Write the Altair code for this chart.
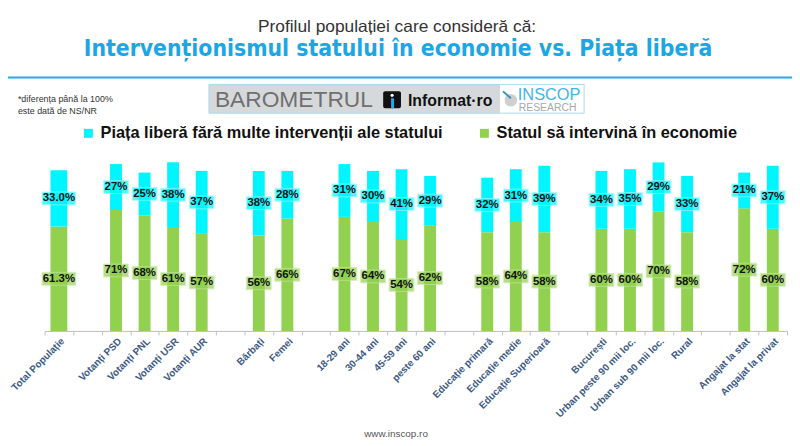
import altair as alt
import pandas as pd

# ---------------- data ----------------
groups = [
    ["Total Populație"],
    ["Votanți PSD", "Votanți PNL", "Votanți USR", "Votanți AUR"],
    ["Bărbați", "Femei"],
    ["18-29 ani", "30-44 ani", "45-59 ani", "peste 60 ani"],
    ["Educație primară", "Educație medie", "Educație Superioară"],
    ["București", "Urban peste 90 mii loc.", "Urban sub 90 mii loc.", "Rural"],
    ["Angajat la stat", "Angajat la privat"],
]
stat_vals = [61.3, 71, 68, 61, 57, 56, 66, 67, 64, 54, 62, 58, 64, 58, 60, 60, 70, 58, 72, 60]
piata_vals = [33.0, 27, 25, 38, 37, 38, 28, 31, 30, 41, 29, 32, 31, 39, 34, 35, 29, 33, 21, 37]
series_names = ["Piața liberă fără multe intervenții ale statului", "Statul să intervină în economie"]
series_colors = ["#00F5FF", "#92D050"]
box_strokes = ["#8FFBFF", "#C4E6A0"]

categories = [c for g in groups for c in g]
domain = []
for i, g in enumerate(groups):
    if i > 0:
        domain.append(" " * i)
    domain.extend(g)
total_cat = categories[0]

rows = []
for c, s, p in zip(categories, stat_vals, piata_vals):
    rows.append({"cat": c, "series": series_names[1], "k": 0, "v": s})
    rows.append({"cat": c, "series": series_names[0], "k": 1, "v": p})
df = pd.DataFrame(rows)

# ---------------- chart ----------------
W, H = 750, 172
is_total = alt.datum.cat == total_cat

x_enc = alt.X(
    "cat:N",
    sort=domain,
    scale=alt.Scale(domain=domain, paddingInner=0, paddingOuter=0),
    axis=alt.Axis(
        title=None, labelAngle=-45, tickBand="extent", tickSize=4,
        tickColor="#BFBFBF", domainColor="#BFBFBF", labelFont="Liberation Sans",
        labelFontWeight="bold", labelFontSize=10, labelColor="#3C5A84",
        labelPadding=1, labelLimit=200, labelOverlap=False,
    ),
)
y_scale = alt.Scale(domain=[0, 100])
color_scale = alt.Scale(domain=series_names, range=series_colors)

base = alt.Chart(df).transform_stack(
    stack="v", groupby=["cat"], as_=["v0", "v1"], sort=[alt.SortField("k", order="ascending")]
).transform_calculate(
    mid="(datum.v0 + datum.v1) / 2",
    lbl=f"datum.cat == '{total_cat}' ? format(datum.v, '.1f') + '%' : format(datum.v, '.0f') + '%'",
)

bars = base.mark_bar().encode(
    x=x_enc,
    y=alt.Y("v0:Q", scale=y_scale, axis=None),
    y2="v1:Q",
    color=alt.Color(
        "series:N", scale=color_scale,
        legend=alt.Legend(
            orient="none", legendX=36, legendY=-36, direction="horizontal", columns=2,
            title=None, symbolType="square", symbolSize=81, symbolStrokeWidth=0,
            labelFont="Liberation Sans", labelFontWeight="bold", labelFontSize=16.5,
            labelColor="#111111", columnPadding=33, labelLimit=600, padding=0,
            labelOffset=4,
        ),
    ),
    size=alt.condition(is_total, alt.value(17), alt.value(12)),
)

boxes = base.mark_tick(thickness=13, filled=True, strokeWidth=1).encode(
    x=x_enc,
    y=alt.Y("mid:Q", scale=y_scale, axis=None),
    color=alt.Color("series:N", scale=color_scale, legend=None),
    stroke=alt.Stroke("series:N", scale=alt.Scale(domain=series_names, range=box_strokes), legend=None),
    size=alt.condition(is_total, alt.value(34), alt.value(25)),
)

labels = base.mark_text(
    font="Liberation Sans", fontWeight="bold", fontSize=11.5, color="#111111", baseline="middle"
).encode(
    x=x_enc,
    y=alt.Y("mid:Q", scale=y_scale, axis=None),
    text="lbl:N",
)

# ---------------- decorations (header, logo, footer) ----------------
one = alt.Chart(pd.DataFrame({"a": [0]}))

title1 = one.mark_text(
    text="Profilul populației care consideră că:", font="Liberation Sans", fontSize=17.5,
    color="#333333", align="center", baseline="alphabetic",
).encode(x=alt.value(356), y=alt.value(-130))

title2 = one.mark_text(
    text="Intervenționismul statului în economie vs. Piața liberă", font="DejaVu Sans Condensed",
    fontWeight="bold", fontSize=23, color="#1BA6E6", align="center", baseline="alphabetic",
).encode(x=alt.value(357), y=alt.value(-106))

hline = one.mark_rule(color="#29ABE2", strokeWidth=2).encode(
    x=alt.value(-37), x2=alt.value(755), y=alt.value(-84)
)

note1 = one.mark_text(
    text="*diferența până la 100%", font="Liberation Sans", fontSize=9, color="#333333",
    align="left", baseline="middle",
).encode(x=alt.value(-27), y=alt.value(-62))
note2 = one.mark_text(
    text="este dată de NS/NR", font="Liberation Sans", fontSize=9, color="#333333",
    align="left", baseline="middle",
).encode(x=alt.value(-27), y=alt.value(-50))

logo_bg = one.mark_rect(fill="#D6D9DB").encode(
    x=alt.value(166), x2=alt.value(460), y=alt.value(-77), y2=alt.value(-48)
)
logo_white = one.mark_rect(fill="#FFFFFF").encode(
    x=alt.value(460), x2=alt.value(545), y=alt.value(-77), y2=alt.value(-48)
)
logo_border = one.mark_rect(fill=None, stroke="#A9D9EC", strokeWidth=1).encode(
    x=alt.value(166), x2=alt.value(545), y=alt.value(-77), y2=alt.value(-48)
)
barometrul = one.mark_text(
    text="BAROMETRUL", font="Liberation Sans", fontSize=23, color="#707070",
    align="left", baseline="alphabetic",
).encode(x=alt.value(172), y=alt.value(-54))
icon_sq = one.mark_rect(fill="#111111", cornerRadius=2).encode(
    x=alt.value(342), x2=alt.value(360), y=alt.value(-70), y2=alt.value(-53)
)
icon_dot = one.mark_point(filled=True, color="#FFFFFF", size=10, opacity=1).encode(
    x=alt.value(351), y=alt.value(-66)
)
icon_stem = one.mark_rect(fill="#29ABE2").encode(
    x=alt.value(350), x2=alt.value(353), y=alt.value(-63), y2=alt.value(-53)
)
informat = one.mark_text(
    text="Informat·ro", font="Liberation Sans", fontWeight="bold", fontSize=16, color="#111111",
    align="left", baseline="alphabetic",
).encode(x=alt.value(367), y=alt.value(-55))
ins_circle = one.mark_point(filled=True, color="#CFCFCF", size=160, opacity=1).encode(
    x=alt.value(471), y=alt.value(-61)
)
ins_slash = one.mark_rule(color="#2E8FB8", strokeWidth=2).encode(
    x=alt.value(463), x2=alt.value(471), y=alt.value(-70), y2=alt.value(-63)
)
inscop = one.mark_text(
    text="INSCOP", font="Liberation Sans", fontSize=16.5, color="#3DB6E8",
    align="left", baseline="alphabetic",
).encode(x=alt.value(478), y=alt.value(-61))
research = one.mark_text(
    text="RESEARCH", font="Liberation Sans", fontSize=10.5, color="#A8A8A8",
    align="left", baseline="alphabetic",
).encode(x=alt.value(479), y=alt.value(-50))

footer = one.mark_text(
    text="www.inscop.ro", font="Liberation Sans", fontSize=10, color="#555555",
    align="center", baseline="alphabetic",
).encode(x=alt.value(355), y=alt.value(279))

chart = alt.layer(
    title1, title2, hline, note1, note2,
    logo_bg, logo_white, logo_border, barometrul, icon_sq, icon_dot, icon_stem,
    informat, ins_circle, ins_slash, inscop, research,
    bars, boxes, labels, footer,
).properties(
    width=W, height=H,
    autosize=alt.AutoSizeParams(type="none"),
    padding={"left": 37, "top": 152, "right": 5, "bottom": 112},
).configure_view(stroke=None)

chart.save("out.html", embed_options={"renderer": "svg", "actions": False})
